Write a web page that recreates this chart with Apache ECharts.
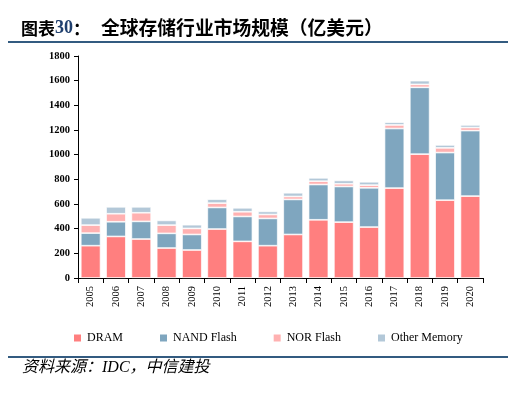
<!DOCTYPE html>
<html>
<head>
<meta charset="utf-8">
<script src="https://cdn.jsdelivr.net/npm/echarts@6/dist/echarts.min.js"></script>
<style>html,body{margin:0;padding:0;background:#fff;}#c{width:508px;height:395px;}</style>
</head>
<body>
<div id="c"></div>
<script>
var years = ['2005','2006','2007','2008','2009','2010','2011','2012','2013','2014','2015','2016','2017','2018','2019','2020'];
var dram  = [262, 337, 316, 243, 227, 397, 297, 262, 353, 472, 453, 413, 729, 1004, 631, 664];
var nand  = [102, 119, 143, 119, 126, 175, 202, 221, 284, 286, 289, 318, 483, 542, 386, 531];
var nor   = [65, 65, 70, 67, 49, 35, 38, 32, 24, 27, 22, 22, 29, 24, 38, 25];
var other = [59, 56, 48, 38, 30, 32, 32, 25, 30, 27, 27, 27, 22, 30, 24, 21];
var yTicks = [0, 200, 400, 600, 800, 1000, 1200, 1400, 1600, 1800];

var serif = '"Liberation Serif", "Times New Roman", serif';
var cjk = '"Noto Sans CJK SC", sans-serif';
function mk(name, data, color) {
  return {
    name: name, type: 'bar', stack: 'total', data: data,
    barCategoryGap: '22%',
    itemStyle: { color: color, borderColor: '#ffffff', borderWidth: 0.7 }
  };
}
var chart = echarts.init(document.getElementById('c'));
chart.setOption({
  animation: false,
  grid: { left: 78, right: 25, top: 56, bottom: 117 },
  legend: {
    left: 67, top: 327, itemWidth: 9, itemHeight: 9, itemGap: 35, itemTextGap: 2,
    icon: 'rect',
    textStyle: { fontFamily: serif, fontSize: 12, color: '#000' },
    data: ['DRAM', 'NAND Flash', 'NOR Flash', 'Other Memory']
  },
  xAxis: {
    type: 'category', data: years,
    axisLine: { lineStyle: { color: '#000', width: 1 } },
    axisTick: { show: true, alignWithLabel: false, length: 5, lineStyle: { color: '#000' } },
    axisLabel: { rotate: 90, fontFamily: serif, fontSize: 10.5, color: '#000', margin: 8 }
  },
  yAxis: {
    type: 'value', min: yTicks[0], max: yTicks[yTicks.length - 1], interval: 200,
    axisLine: { show: true, lineStyle: { color: '#000', width: 1 } },
    axisTick: { show: true, length: 4, lineStyle: { color: '#000' } },
    splitLine: { show: false },
    axisLabel: { fontFamily: serif, fontSize: 10.5, fontWeight: 'bold', color: '#000', margin: 8,
      formatter: function (v) { return String(v); } }
  },
  series: [
    mk('DRAM', dram, '#ff7f7f'),
    mk('NAND Flash', nand, '#7fa6bf'),
    mk('NOR Flash', nor, '#ffb1b1'),
    mk('Other Memory', other, '#b3c8d8')
  ],
  graphic: [
    { type: 'text', left: 21, top: 20, style: { text: '图表', fontFamily: cjk, fontSize: 17, fontWeight: 'bold', fill: '#000' } },
    { type: 'text', left: 55, top: 19, style: { text: '30', fontFamily: serif, fontSize: 18, fontWeight: 'bold', fill: '#1f3f6e' } },
    { type: 'text', left: 73, top: 20, style: { text: '：', fontFamily: cjk, fontSize: 17, fontWeight: 'bold', fill: '#000' } },
    { type: 'text', left: 101, top: 18, style: { text: '全球存储行业市场规模（亿美元）', fontFamily: cjk, fontSize: 18.8, fontWeight: 'bold', fill: '#000' } },
    { type: 'rect', shape: { x: 8, y: 41, width: 500, height: 2 }, style: { fill: '#335b80' } },
    { type: 'rect', shape: { x: 8, y: 356, width: 500, height: 2 }, style: { fill: '#335b80' } },
    { type: 'text', left: 22, top: 360, style: { text: '资料来源：IDC，中信建投', fontFamily: '"Liberation Serif", "Noto Sans CJK SC", serif', fontStyle: 'italic', fontSize: 16, fill: '#000' } }
  ]
});
</script>
</body>
</html>
